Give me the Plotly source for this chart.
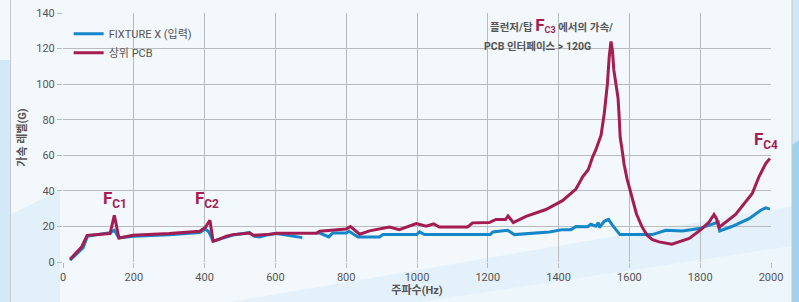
import plotly.graph_objects as go

# ---- data ----
freq_fixture = [20, 57, 69, 133, 145, 158, 200, 300, 386, 402,
                412, 424, 438, 462, 480, 527, 541, 556, 575, 603,
                640, 676, 690, 716, 725, 751, 762, 800, 808, 833,
                894, 904, 979, 999, 1007, 1021, 1207, 1214, 1256, 1275,
                1374, 1411, 1435, 1449, 1482, 1491, 1505, 1512, 1515, 1521,
                1529, 1541, 1552, 1573, 1665, 1703, 1750, 1797, 1844, 1851,
                1855, 1891, 1938, 1971, 1985, 1997]
fixture_g = [1.0, 8.0, 14.5, 16.5, 17.8, 13.5, 14.5, 15.3, 16.5, 18.5,
             17.0, 11.7, 12.6, 14.3, 15.2, 16.5, 14.5, 14.1, 15.2, 16.0,
             15.0, 13.7, None, 16.3, 16.3, 14.1, 16.3, 16.3, 17.3, 14.1,
             14.1, 15.4, 15.4, 15.4, 16.9, 15.4, 15.4, 16.9, 17.8, 15.4,
             16.9, 18.2, 18.2, 20.0, 19.8, 21.2, 20.1, 22.2, 19.4, 21.2,
             22.9, 24.0, 20.7, 15.4, 15.4, 17.8, 17.5, 18.8, 22.0, 22.5,
             17.5, 20.1, 24.4, 29.1, 30.4, 29.7]

freq_pcb = [20, 53, 68, 133, 145, 158, 198, 300, 386, 402,
            415, 424, 438, 462, 480, 527, 537, 575, 603, 716,
            725, 800, 812, 838, 866, 922, 950, 998, 1026, 1047,
            1063, 1143, 1157, 1204, 1223, 1250, 1257, 1272, 1308, 1364,
            1411, 1430, 1449, 1468, 1484, 1496, 1505, 1520, 1529, 1538,
            1543, 1548, 1552, 1556, 1562, 1568, 1571, 1574, 1578, 1585,
            1593, 1600, 1610, 1620, 1635, 1650, 1665, 1684, 1720, 1769,
            1802, 1825, 1839, 1846, 1853, 1900, 1947, 1966, 1985, 1997]
pcb_g = [1.5, 8.5, 15.0, 16.0, 26.3, 13.5, 15.0, 16.0, 17.3, 19.4,
         23.5, 11.7, 12.6, 14.5, 15.4, 16.3, 15.0, 15.4, 16.2, 16.2,
         17.3, 18.6, 19.9, 15.6, 17.5, 19.7, 18.2, 21.6, 20.1, 21.4,
         19.7, 19.7, 22.0, 22.2, 23.9, 23.9, 25.9, 22.2, 25.7, 29.5,
         34.5, 38.0, 41.0, 47.9, 52.0, 59.0, 63.0, 71.3, 83.5, 100.4,
         115.4, 124.0, 119.0, 108.0, 100.0, 92.0, 82.0, 70.0, 65.0, 55.0,
         47.0, 42.0, 34.0, 27.0, 20.0, 15.0, 12.5, 11.3, 10.0, 13.2,
         18.2, 22.5, 26.7, 24.4, 19.4, 26.7, 38.5, 47.9, 55.4, 58.2]

series_names = ["FIXTURE X (입력)", "상위 PCB"]
x_ticks = [0, 200, 400, 600, 800, 1000, 1200, 1400, 1600, 1800, 2000]
y_ticks = [0, 20, 40, 60, 80, 100, 120, 140]
x_title = "주파수(Hz)"
y_title = "가속 레벨(G)"

BLUE = "#1586c8"
RED = "#a51c52"
GRAY = "#555555"
FONT = "Roboto, 'Noto Sans CJK KR', sans-serif"

fig = go.Figure()
fig.add_trace(go.Scatter(x=freq_fixture, y=fixture_g, mode="lines", name=series_names[0],
                         line=dict(color=BLUE, width=3), connectgaps=False))
fig.add_trace(go.Scatter(x=freq_pcb, y=pcb_g, mode="lines", name=series_names[1],
                         line=dict(color=RED, width=3)))

# ---- background decorations (paper coords) ----
L, R, T, B = 63, 771, 13, 262
W, H = 799, 302
def px(x):
    return (x - L) / (R - L)
def py(y):
    return (B - y) / (B - T)

shapes = []
shapes.append(dict(type="path", xref="paper", yref="paper", layer="below",
                   path=f"M {px(230)} {py(302)} L {px(799)} {py(205)} L {px(799)} {py(302)} Z",
                   fillcolor="#e4f1fa", line=dict(width=0)))
shapes.append(dict(type="path", xref="paper", yref="paper", layer="below",
                   path=f"M {px(420)} {py(302)} L {px(799)} {py(245)} L {px(799)} {py(302)} Z",
                   fillcolor="#edf6fb", line=dict(width=0)))
shapes.append(dict(type="path", xref="paper", yref="paper", layer="below",
                   path=f"M {px(0)} {py(302)} L {px(0)} {py(60)} L {px(10)} {py(60)} L {px(10)} {py(302)} Z",
                   fillcolor="#d3e9f7", line=dict(width=0)))
shapes.append(dict(type="path", xref="paper", yref="paper", layer="below",
                   path=f"M {px(10)} {py(302)} L {px(10)} {py(215)} L {px(60)} {py(190)} L {px(60)} {py(302)} Z",
                   fillcolor="#e2f0f9", line=dict(width=0)))
shapes.append(dict(type="rect", xref="paper", yref="paper", layer="below",
                   x0=px(792), x1=px(799), y0=py(302), y1=py(0),
                   fillcolor="#cfe7f6", line=dict(width=0)))
shapes.append(dict(type="path", xref="paper", yref="paper", layer="below",
                   path=f"M {px(792)} {py(302)} L {px(792)} {py(145)} L {px(799)} {py(140)} L {px(799)} {py(302)} Z",
                   fillcolor="#9fd2f0", line=dict(width=0)))
shapes.append(dict(type="line", xref="paper", yref="paper", layer="below",
                   x0=px(10.5), x1=px(10.5), y0=py(0), y1=py(302),
                   line=dict(color="#c3c9ce", width=1)))
shapes.append(dict(type="line", xref="paper", yref="paper", layer="below",
                   x0=px(792), x1=px(792), y0=py(0), y1=py(302),
                   line=dict(color="#c3c9ce", width=1)))

def fc(sub):
    return "<b>F<sub>" + sub + "</sub></b>"

annotations = [
    dict(x=147, y=27.5, xref="x", yref="y", text=fc("C1"), showarrow=False,
         font=dict(family=FONT, size=17, color=RED), xanchor="center", yanchor="bottom"),
    dict(x=407, y=27.5, xref="x", yref="y", text=fc("C2"), showarrow=False,
         font=dict(family=FONT, size=17, color=RED), xanchor="center", yanchor="bottom"),
    dict(x=1985, y=61, xref="x", yref="y", text=fc("C4"), showarrow=False,
         font=dict(family=FONT, size=17, color=RED), xanchor="center", yanchor="bottom"),
    dict(x=1380, y=133.5, xref="x", yref="y",
         text="<b>플런저/탑 </b><span style='color:" + RED + ";font-size:17px'><b>F</b></span>"
              "<sub><span style='color:" + RED + ";font-size:9px'><b>C3</b></span></sub><b> 에서의 가속/</b>",
         showarrow=False, font=dict(family=FONT, size=10.5, color=GRAY),
         xanchor="center", yanchor="middle"),
    dict(x=1340, y=121, xref="x", yref="y", text="<b>PCB 인터페이스 &gt; 120G</b>",
         showarrow=False, font=dict(family=FONT, size=10.5, color=GRAY),
         xanchor="center", yanchor="middle"),
]

fig.update_layout(
    width=W, height=H,
    margin=dict(l=L, r=W - R, t=T, b=H - B, autoexpand=False),
    paper_bgcolor="#f3f8fc",
    plot_bgcolor="rgba(0,0,0,0)",
    font=dict(family=FONT, color=GRAY, size=11),
    showlegend=True,
    legend=dict(x=0.008, y=0.975, xanchor="left", yanchor="top",
                bgcolor="rgba(0,0,0,0)", font=dict(size=11, color=GRAY),
                tracegroupgap=0, itemwidth=30),
    shapes=shapes,
    annotations=annotations,
)
fig.update_xaxes(range=[0, 2000], tickvals=x_ticks, showgrid=True, gridcolor="#b9bcbf",
                 gridwidth=1.2, zeroline=False, showline=False, ticks="outside",
                 ticklen=5, tickcolor="#b9bcbf", tickfont=dict(size=11, color=GRAY),
                 automargin=False,
                 title=dict(text="<b>" + x_title + "</b>", font=dict(size=11, color=GRAY), standoff=2))
fig.update_yaxes(range=[0, 140], tickvals=y_ticks, showgrid=True, gridcolor="#b9bcbf",
                 gridwidth=1.2, zeroline=False, showline=False, ticks="outside",
                 ticklen=5, tickcolor="#b9bcbf", tickfont=dict(size=11, color=GRAY),
                 automargin=False,
                 title=dict(text="<b>" + y_title + "</b>", font=dict(size=11, color=GRAY), standoff=7))

fig.write_html("out.html", config={"displayModeBar": False},
               post_script="document.body.style.margin='0';")
